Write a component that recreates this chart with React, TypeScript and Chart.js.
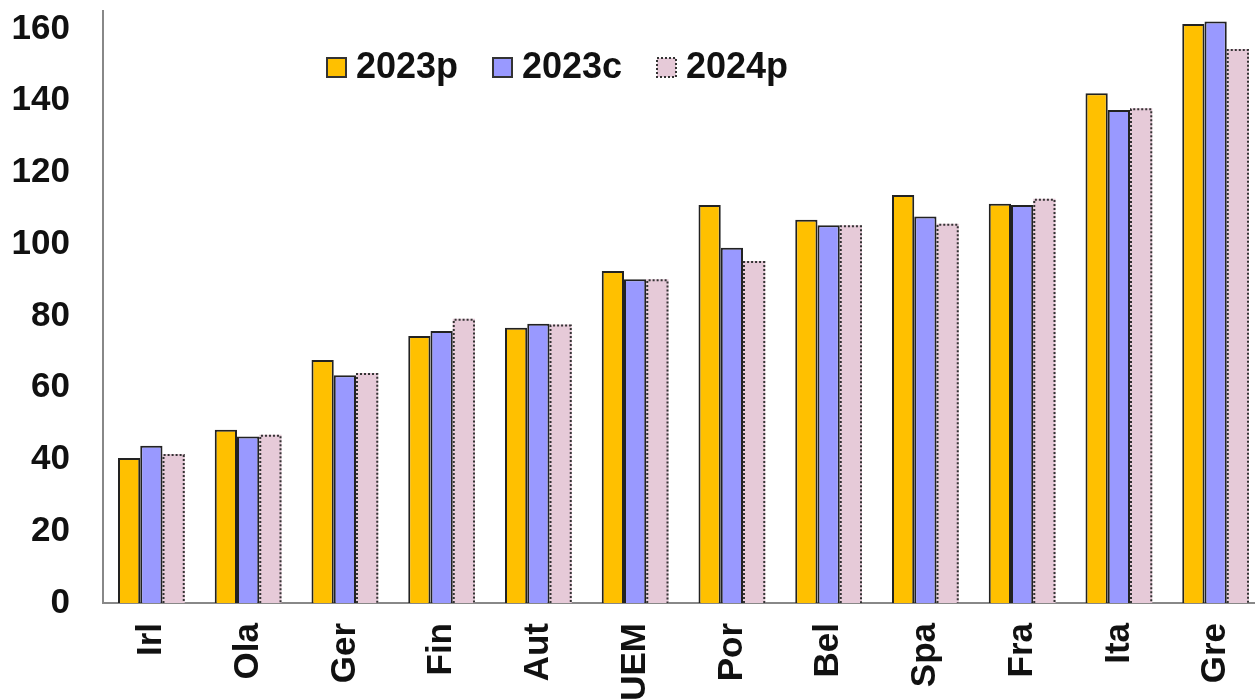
import React, { useEffect, useRef } from "react";
import { Chart, registerables } from "chart.js";
Chart.register(...registerables);

const categories = ["Irl", "Ola", "Ger", "Fin", "Aut", "UEM", "Por", "Bel", "Spa", "Fra", "Ita", "Gre"];
const series2023p = [40.4, 48.3, 67.7, 74.4, 76.7, 92.5, 110.9, 106.8, 113.7, 111.3, 142.1, 161.4];
const series2023c = [43.8, 46.4, 63.5, 75.8, 77.8, 90.2, 99.0, 105.3, 107.7, 110.9, 137.4, 162.1];
const series2024p = [41.5, 46.9, 64.1, 79.2, 77.6, 90.2, 95.3, 105.3, 105.7, 112.7, 137.9, 154.4];
const seriesNames = ["2023p", "2023c", "2024p"];
const yTicks = [0, 20, 40, 60, 80, 100, 120, 140, 160];
const yMin = 0;
const yMax = 165;

const FONT = "'Liberation Sans', Arial, sans-serif";
const COLORS = ["#FFC000", "#9999FF", "#E6CAD8"];

const dottedBars = {
  id: "dottedBars",
  afterDatasetsDraw(chart: any) {
    const ctx = chart.ctx;
    const meta = chart.getDatasetMeta(2);
    ctx.save();
    ctx.strokeStyle = "#333";
    ctx.lineWidth = 2;
    ctx.setLineDash([2, 2]);
    meta.data.forEach((bar: any) => {
      const { x, y, base, width } = bar.getProps(["x", "y", "base", "width"], true);
      const l = x - width / 2 + 1;
      const r = x + width / 2 - 1;
      ctx.beginPath();
      ctx.moveTo(l, base);
      ctx.lineTo(l, y + 1);
      ctx.lineTo(r, y + 1);
      ctx.lineTo(r, base);
      ctx.stroke();
    });
    ctx.restore();
  },
};

const innerLegend = {
  id: "innerLegend",
  afterDraw(chart: any) {
    const ctx = chart.ctx;
    const items = [
      { x: 327, label: seriesNames[0], dotted: false },
      { x: 493, label: seriesNames[1], dotted: false },
      { x: 657, label: seriesNames[2], dotted: true },
    ];
    ctx.save();
    ctx.font = `bold 36px ${FONT}`;
    ctx.textBaseline = "alphabetic";
    ctx.textAlign = "left";
    items.forEach((it, i) => {
      const sy = 58;
      const s = 19;
      ctx.fillStyle = COLORS[i];
      ctx.fillRect(it.x, sy, s, s);
      ctx.strokeStyle = "#333";
      ctx.lineWidth = 2;
      ctx.setLineDash(it.dotted ? [2, 2] : []);
      ctx.strokeRect(it.x, sy, s, s);
      ctx.setLineDash([]);
      ctx.fillStyle = "#111";
      ctx.fillText(it.label, it.x + 29, 78);
    });
    ctx.restore();
  },
};

export default function App() {
  const ref = useRef<HTMLCanvasElement>(null);
  useEffect(() => {
    if (!ref.current) return;
    const chart = new Chart(ref.current, {
      type: "bar",
      data: {
        labels: categories,
        datasets: [
          {
            label: seriesNames[0],
            data: series2023p,
            backgroundColor: COLORS[0],
            borderColor: "#222",
            borderWidth: 2,
          },
          {
            label: seriesNames[1],
            data: series2023c,
            backgroundColor: COLORS[1],
            borderColor: "#222",
            borderWidth: 2,
          },
          {
            label: seriesNames[2],
            data: series2024p,
            backgroundColor: COLORS[2],
            borderWidth: 0,
          },
        ],
      },
      options: {
        responsive: false,
        animation: false,
        layout: { padding: { top: 11, right: 0, left: 0, bottom: 0 } },
        plugins: {
          legend: { display: false },
          tooltip: { enabled: false },
        },
        datasets: {
          bar: { categoryPercentage: 0.69, barPercentage: 1.0 },
        },
        scales: {
          x: {
            grid: { display: false, drawTicks: false },
            border: { display: true, color: "#888", width: 2 },
            ticks: {
              color: "#111",
              font: { family: FONT, size: 35, weight: "bold" },
              minRotation: 90,
              maxRotation: 90,
              autoSkip: false,
              padding: 20,
            },
            afterFit(scale: any) {
              scale.height = 96;
              scale.paddingLeft = 0;
              scale.paddingRight = 0;
            },
          },
          y: {
            min: yMin,
            max: yMax,
            grid: { display: false, drawTicks: false },
            border: { display: true, color: "#888", width: 2 },
            ticks: {
              color: "#111",
              autoSkip: false,
              font: { family: FONT, size: 35, weight: "bold" },
              padding: 33,
            },
            afterBuildTicks(scale: any) {
              scale.ticks = yTicks.map((v) => ({ value: v }));
            },
            afterFit(scale: any) {
              scale.width = 103;
              scale.paddingTop = 0;
              scale.paddingBottom = 0;
            },
          },
        },
      },
      plugins: [dottedBars, innerLegend],
    });
    return () => chart.destroy();
  }, []);
  return (
    <div
      style={{
        position: "fixed",
        left: 0,
        top: 0,
        width: 1255,
        height: 699,
        overflow: "hidden",
        background: "#fff",
      }}
    >
      <canvas ref={ref} width={1264} height={699} style={{ width: 1264, height: 699, display: "block" }} />
    </div>
  );
}
